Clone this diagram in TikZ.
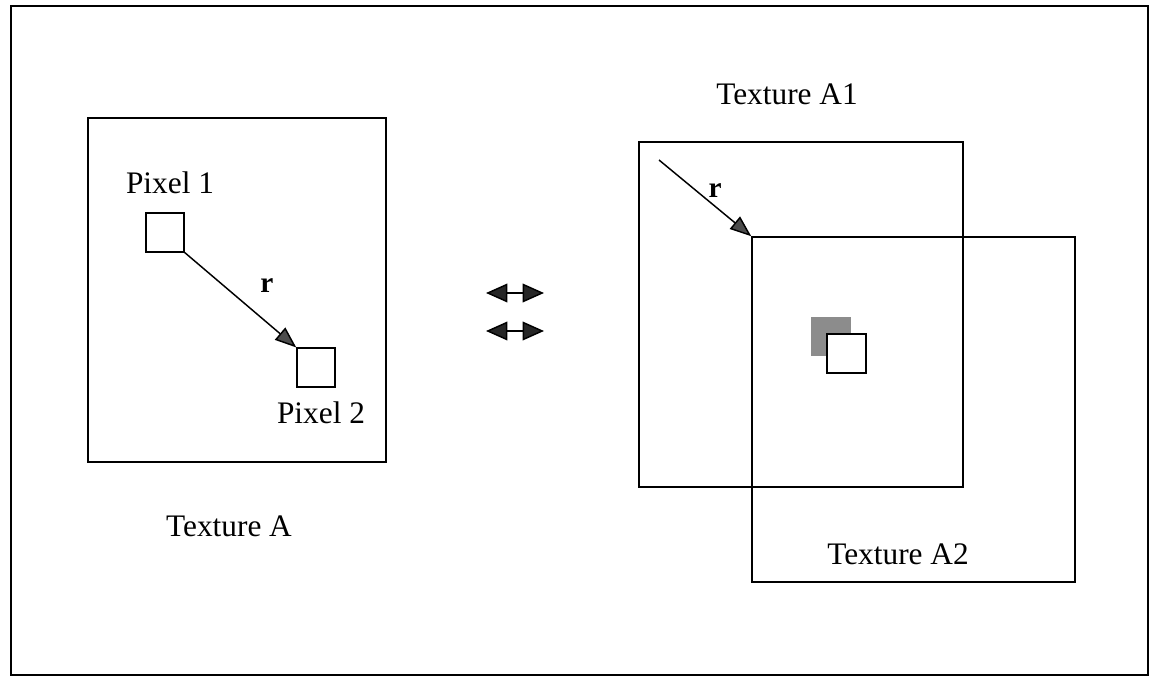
\documentclass[tikz,border=0pt]{standalone}
\usepackage{fontspec}
\setmainfont{Liberation Serif}
\usetikzlibrary{arrows.meta}
\begin{document}
\begin{tikzpicture}[x=0.75pt,y=-0.75pt,
  box/.style={draw,line width=1.1pt,inner sep=0pt,minimum width=#1},
  lbl/.style={font=\fontsize{23.5}{26}\selectfont,inner sep=0pt},
  rlbl/.style={font=\fontsize{22}{24}\selectfont\bfseries,inner sep=0pt},
  vec/.style={line width=1.1pt,-{Triangle[length=16pt,width=12pt,fill=black!70]}},
  dbl/.style={line width=1.1pt,{Triangle[length=16pt,width=14pt,fill=black!85]}-{Triangle[length=16pt,width=14pt,fill=black!85]}}
]
\useasboundingbox (0,0) rectangle (1151,680);
\node[draw,line width=1.3pt,inner sep=0pt,minimum width=852.75pt,minimum height=501.75pt] (frame) at (579.5,340.5) {};
% Texture A
\node[box=223.5pt,minimum height=258pt] (texA) at (237,290) {};
\node[box=28.5pt,minimum height=29pt] (p1) at (165,232.5) {};
\node[box=28.5pt,minimum height=29pt] (p2) at (316,367.5) {};
\draw[vec] (p1.south east) -- (p2.north west);
\node[lbl] (lp1) at (170,182.5) {Pixel 1};
\node[lbl] (lp2) at (321,413) {Pixel 2};
\node[rlbl] (r1) at (267,286) {r};
\node[lbl] (ltA) at (229,526) {Texture A};
% double arrows
\coordinate (d1a) at (486,293); \coordinate (d1b) at (544,293);
\coordinate (d2a) at (486,331); \coordinate (d2b) at (544,331);
\draw[dbl] (d1a) -- (d1b);
\draw[dbl] (d2a) -- (d2b);
% Texture A1, A2
\node[box=243pt,minimum height=258.75pt] (texA1) at (801,314.5) {};
\node[box=242.25pt,minimum height=258.75pt] (texA2) at (913.5,409.5) {};
\coordinate (rs) at (659,160);
\draw[vec] (rs) -- (texA2.north west);
\node[rlbl] (r2) at (715,191) {r};
\node[lbl] (ltA1) at (787,94) {Texture A1};
\node[lbl] (ltA2) at (898,554) {Texture A2};
\node[fill=black!45,inner sep=0pt,minimum width=30pt,minimum height=29.25pt] (gsq) at (831,336.5) {};
\node[box=29.25pt,fill=white,minimum height=29.25pt] (wsq) at (846.5,353.5) {};
\end{tikzpicture}
\end{document}
